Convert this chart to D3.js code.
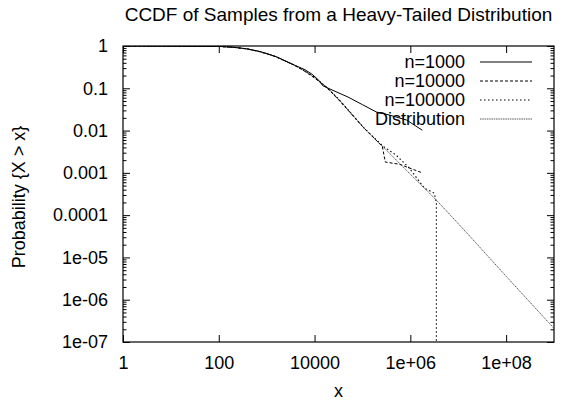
<!DOCTYPE html>
<html>
<head>
<meta charset="utf-8">
<script src="https://cdn.jsdelivr.net/npm/d3@7/dist/d3.min.js"></script>
<style>
  body { margin: 0; background: #fff; }
  text { font-family: "Liberation Sans", Arial, Helvetica, sans-serif; fill: #000; }
</style>
</head>
<body>
<div id="wrapper"></div>
<script>
// ticks
const xTicks = [1, 100, 1e4, 1e6, 1e8];
const xTickLabels = ["1", "100", "10000", "1e+06", "1e+08"];
const yTicks = [1, 0.1, 0.01, 0.001, 0.0001, 1e-5, 1e-6, 1e-7];
const yTickLabels = ["1", "0.1", "0.01", "0.001", "0.0001", "1e-05", "1e-06", "1e-07"];

// series
const n1000X = [1, 100, 200, 400, 700, 1000, 1600, 2500, 4000, 6300, 8900, 12600, 14800, 28000, 50000, 1e5, 1.95e5, 3.6e5, 8.3e5, 1.78e6];
const n1000Y = [1, 0.977, 0.935, 0.852, 0.745, 0.665, 0.555, 0.44, 0.345, 0.275, 0.215, 0.15, 0.115, 0.083, 0.062, 0.041, 0.0275, 0.0234, 0.0178, 0.0102];

const n10000X = [1, 100, 200, 400, 700, 1000, 1600, 2500, 4000, 6300, 1e4, 1.8e4, 3.2e4, 1e5, 2.6e5, 3.0e5, 5.9e5, 1.78e6];
const n10000Y = [1, 0.977, 0.933, 0.85, 0.74, 0.66, 0.55, 0.437, 0.34, 0.25, 0.175, 0.104, 0.053, 0.0126, 0.0042, 0.0018, 0.0016, 0.001];

const n100000X = [1, 100, 200, 400, 700, 1000, 1600, 2500, 4000, 6300, 1e4, 1.8e4, 3.2e4, 1e5, 2.6e5, 5.1e5, 9.5e5, 1.95e6, 3.16e6, 3.5e6, 3.5e6];
const n100000Y = [1, 0.977, 0.933, 0.85, 0.74, 0.66, 0.55, 0.437, 0.34, 0.257, 0.18, 0.105, 0.055, 0.0126, 0.0044, 0.0026, 0.0013, 0.00044, 0.00033, 0.0002, 1e-8];

const distX = [1, 10, 30, 100, 200, 400, 700, 1000, 1600, 2500, 4000, 6300, 1e4, 1.8e4, 3.2e4, 5.6e4, 1e5, 3.2e5, 1e6, 3.2e6, 1e7, 1e8, 1e9];
const distY = [1, 1, 0.993, 0.977, 0.933, 0.85, 0.74, 0.66, 0.55, 0.437, 0.34, 0.257, 0.18, 0.105, 0.055, 0.027, 0.0126, 0.0034, 0.00093, 0.00025, 6.3e-5, 3.6e-6, 2.1e-7];

const seriesNames = ["n=1000", "n=10000", "n=100000", "Distribution"];

function drawChart() {
  const series = [
    { name: seriesNames[0], xs: n1000X, ys: n1000Y, dash: null, color: "#000", width: 1 },
    { name: seriesNames[1], xs: n10000X, ys: n10000Y, dash: "3,2", color: "#000", width: 1 },
    { name: seriesNames[2], xs: n100000X, ys: n100000Y, dash: "1.5,2.5", color: "#000", width: 1.1 },
    { name: seriesNames[3], xs: distX, ys: distY, dash: "1.5,0.8", color: "#444", width: 0.9 },
  ];

  // dimensions
  let dimensions = {
    width: 563,
    height: 402,
    margin: { top: 46, bottom: 60, left: 123, right: 9 },
  };
  dimensions.boundedWidth = dimensions.width - dimensions.margin.left - dimensions.margin.right;
  dimensions.boundedHeight = dimensions.height - dimensions.margin.top - dimensions.margin.bottom;

  const wrapper = d3.select("#wrapper")
    .append("svg")
    .attr("width", dimensions.width)
    .attr("height", dimensions.height);

  const bounds = wrapper.append("g")
    .attr("transform", `translate(${dimensions.margin.left},${dimensions.margin.top})`);

  // scales
  const xScale = d3.scaleLog().domain([1, 1e9]).range([0, dimensions.boundedWidth]);
  const yScale = d3.scaleLog().domain([1e-7, 1]).range([dimensions.boundedHeight, 0]);

  // minor y ticks 2..9 per decade
  const yMinor = [];
  for (let e = -7; e < 0; e++) for (let m = 2; m <= 9; m++) yMinor.push(m * Math.pow(10, e));

  // axes
  bounds.append("g")
    .attr("transform", `translate(0,${dimensions.boundedHeight})`)
    .call(d3.axisBottom(xScale).tickValues(xTicks).tickFormat((d, i) => xTickLabels[i]).tickSize(-7).tickPadding(14));
  bounds.append("g")
    .call(d3.axisTop(xScale).tickValues(xTicks).tickFormat("").tickSize(-7));

  bounds.append("g")
    .call(d3.axisLeft(yScale).tickValues(yTicks).tickFormat((d, i) => yTickLabels[i]).tickSize(-7).tickPadding(15));
  bounds.append("g")
    .attr("transform", `translate(${dimensions.boundedWidth},0)`)
    .call(d3.axisRight(yScale).tickValues(yTicks).tickFormat("").tickSize(-7));
  bounds.append("g")
    .call(d3.axisLeft(yScale).tickValues(yMinor).tickFormat("").tickSize(-3.5));
  bounds.append("g")
    .attr("transform", `translate(${dimensions.boundedWidth},0)`)
    .call(d3.axisRight(yScale).tickValues(yMinor).tickFormat("").tickSize(-3.5));

  bounds.selectAll(".domain").remove();
  bounds.selectAll(".tick line").attr("stroke", "#000");
  bounds.selectAll(".tick text")
    .attr("fill", "#000")
    .style("font-family", '"Liberation Sans", Arial, sans-serif')
    .style("font-size", "18px");

  // frame
  bounds.append("rect")
    .attr("width", dimensions.boundedWidth)
    .attr("height", dimensions.boundedHeight)
    .attr("fill", "none")
    .attr("stroke", "#000")
    .attr("stroke-width", 1.2);

  // curves
  bounds.append("clipPath").attr("id", "plot-clip")
    .append("rect")
    .attr("width", dimensions.boundedWidth)
    .attr("height", dimensions.boundedHeight);

  const lineGen = d3.line()
    .x((d) => xScale(d[0]))
    .y((d) => yScale(Math.max(d[1], 1e-9)));

  const linesGroup = bounds.append("g").attr("clip-path", "url(#plot-clip)");
  series.slice().reverse().forEach((s) => {
    const pts = s.xs.map((x, i) => [x, s.ys[i]]);
    linesGroup.append("path")
      .datum(pts)
      .attr("d", s.name === "Distribution" ? lineGen.curve(d3.curveMonotoneX)(pts) : lineGen.curve(d3.curveLinear)(pts))
      .attr("fill", "none")
      .attr("stroke", s.color)
      .attr("stroke-width", s.width)
      .attr("stroke-dasharray", s.dash);
  });

  // legend
  const legend = bounds.append("g");
  series.forEach((s, i) => {
    const y = 16 + i * 19;
    legend.append("text")
      .attr("x", 465 - dimensions.margin.left)
      .attr("y", y)
      .attr("dy", "0.35em")
      .attr("text-anchor", "end")
      .style("font-size", "18px")
      .text(s.name);
    legend.append("line")
      .attr("x1", 480 - dimensions.margin.left)
      .attr("x2", 532 - dimensions.margin.left)
      .attr("y1", y)
      .attr("y2", y)
      .attr("stroke", s.color)
      .attr("stroke-width", s.width)
      .attr("stroke-dasharray", s.dash);
  });

  // title and labels
  wrapper.append("text")
    .attr("x", dimensions.margin.left + dimensions.boundedWidth / 2)
    .attr("y", 21)
    .attr("text-anchor", "middle")
    .style("font-size", "19px")
    .text("CCDF of Samples from a Heavy-Tailed Distribution");

  wrapper.append("text")
    .attr("x", dimensions.margin.left + dimensions.boundedWidth / 2)
    .attr("y", 397)
    .attr("text-anchor", "middle")
    .style("font-size", "18px")
    .text("x");

  wrapper.append("text")
    .attr("transform", `translate(25,197) rotate(-90)`)
    .attr("text-anchor", "middle")
    .style("font-size", "18px")
    .text("Probability {X > x}");
}

drawChart();
</script>
</body>
</html>
